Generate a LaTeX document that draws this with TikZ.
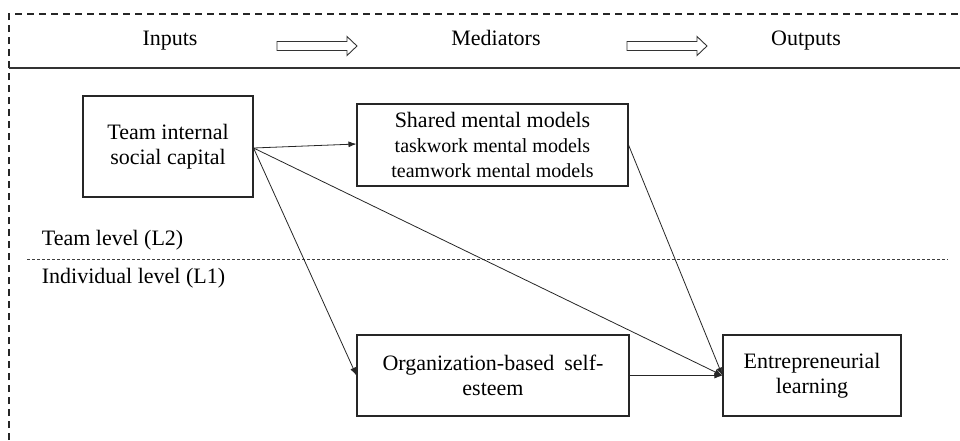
\documentclass[tikz,border=0pt]{standalone}
\usepackage{fontspec}
\setmainfont{Liberation Serif}
\newfontfamily\figfont{Liberation Serif}
\usetikzlibrary{arrows.meta}
\begin{document}
\begin{tikzpicture}[x=1pt,y=-1pt,
  box/.style={draw=black!85, line width=1.1pt, align=center, inner sep=0pt,
    font=\figfont\fontsize{22}{25}\selectfont, text=black},
  conn/.style={-{Latex[length=8pt,width=6pt]}, line width=0.8pt, draw=black!85},
  hdr/.style={anchor=base, font=\figfont\fontsize{22}{25}\selectfont, inner sep=0pt, text=black},
  lvl/.style={anchor=base west, font=\figfont\fontsize{22}{25}\selectfont, inner sep=0pt, text=black},
  hollow/.style={draw=black!80, line width=0.9pt, fill=white}]
\useasboundingbox (0,0) rectangle (960,440);
% outer dashed frame
\draw[line width=1.2pt, dash pattern=on 7pt off 5pt, draw=black!85] (9,440) -- (9,14) -- (960,14);
% header separator
\draw[line width=1.3pt, draw=black!80] (9,68) -- (960,68);
% header labels
\node[hdr] (inputs) at (170,45.7) {Inputs};
\node[hdr] (mediators) at (496,45.7) {Mediators};
\node[hdr] (outputs) at (806,45.7) {Outputs};
% hollow arrows
\draw[hollow] (277,41.5) -- (347,41.5) -- (347,36.5) -- (357,46) -- (347,55.5) -- (347,50.5) -- (277,50.5) -- cycle;
\draw[hollow] (627,41.5) -- (697,41.5) -- (697,36.5) -- (707,46) -- (697,55.5) -- (697,50.5) -- (627,50.5) -- cycle;
% level divider
\draw[line width=0.9pt, dash pattern=on 3pt off 2pt, draw=black!75] (27,259) -- (948,259);
\node[lvl] (l2) at (41.7,245) {Team level (L2)};
\node[lvl] (l1) at (41.7,283) {Individual level (L1)};
% boxes
\node[box, minimum width=170pt, minimum height=101pt] (tisc) at (168,146.5)
  {Team internal\\social capital};
\node[box, minimum width=271pt, minimum height=82pt] (smm) at (492.5,145)
  {Shared mental models\\{\fontsize{20}{25}\selectfont taskwork mental models}\\{\fontsize{20}{25}\selectfont teamwork mental models}};
\node[box, minimum width=272pt, minimum height=81pt] (obse) at (493,375.5)
  {Organization-based\hspace{10pt}self-\\esteem};
\node[box, minimum width=178pt, minimum height=81pt] (el) at (812,375.5)
  {Entrepreneurial\\learning};
% connectors
\draw[conn] ([yshift=-1.5pt]tisc.east) -- ([yshift=1pt]smm.west);
\draw[conn] ([yshift=-1.5pt]tisc.east) -- (obse.west);
\draw[conn] ([yshift=-1.5pt]tisc.east) -- (el.west);
\draw[conn] (smm.east) -- (el.west);
\draw[conn] (obse.east) -- (el.west);
\end{tikzpicture}
\end{document}
